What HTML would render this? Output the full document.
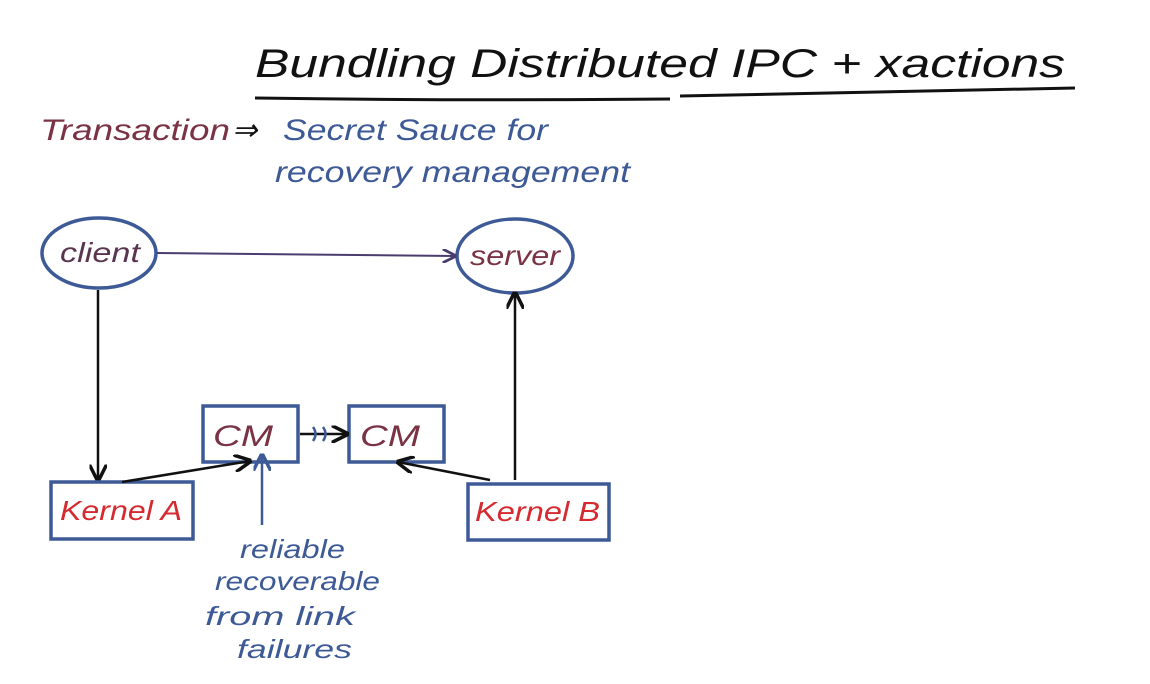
<!DOCTYPE html>
<html><head><meta charset="utf-8"><style>
html,body{margin:0;padding:0;background:#fff;width:1150px;height:684px;overflow:hidden}
text{font-family:"Liberation Sans",sans-serif;font-style:italic}
</style></head><body>
<svg width="1150" height="684" viewBox="0 0 1150 684" xmlns="http://www.w3.org/2000/svg">
<defs>
<marker id="a" viewBox="0 0 10 10" refX="9" refY="5" markerWidth="7" markerHeight="7" orient="auto"><path d="M0,0 L10,5 L0,10" fill="none" stroke="#111" stroke-width="2"/></marker>
<marker id="ab" viewBox="0 0 10 10" refX="9" refY="5" markerWidth="7" markerHeight="7" orient="auto"><path d="M0,0 L10,5 L0,10" fill="none" stroke="#3d5a96" stroke-width="2"/></marker>
<marker id="am" viewBox="0 0 10 10" refX="9" refY="5" markerWidth="7" markerHeight="7" orient="auto"><path d="M0,0 L10,5 L0,10" fill="none" stroke="#4a3c6e" stroke-width="2"/></marker>
</defs>
<text x="255" y="77" font-size="40" fill="#111" textLength="810" lengthAdjust="spacingAndGlyphs">Bundling Distributed IPC + xactions</text>
<path d="M255,98 Q460,101 670,99" stroke="#111" stroke-width="3" fill="none"/>
<path d="M680,96 Q880,92 1075,88" stroke="#111" stroke-width="3" fill="none"/>
<text x="40" y="140" font-size="30" fill="#7a3344" textLength="190" lengthAdjust="spacingAndGlyphs">Transaction</text>
<text x="232" y="140" font-size="30" fill="#111">⇒</text>
<text x="283" y="140" font-size="30" fill="#3d5a96" textLength="265" lengthAdjust="spacingAndGlyphs">Secret Sauce for</text>
<text x="275" y="182" font-size="30" fill="#3d5a96" textLength="355" lengthAdjust="spacingAndGlyphs">recovery management</text>
<ellipse cx="99" cy="253" rx="57" ry="35" fill="none" stroke="#3d5a96" stroke-width="3.5"/>
<text x="60" y="262" font-size="28" fill="#5a3550" textLength="80" lengthAdjust="spacingAndGlyphs">client</text>
<ellipse cx="515" cy="256" rx="58" ry="37" fill="none" stroke="#3d5a96" stroke-width="3.5"/>
<text x="470" y="265" font-size="28" fill="#7a3344" textLength="90" lengthAdjust="spacingAndGlyphs">server</text>
<line x1="157" y1="253" x2="455" y2="256" stroke="#4a3c6e" stroke-width="2" marker-end="url(#am)"/>
<line x1="98" y1="290" x2="98" y2="480" stroke="#111" stroke-width="2.5" marker-end="url(#a)"/>
<line x1="515" y1="480" x2="515" y2="293" stroke="#111" stroke-width="2.5" marker-end="url(#a)"/>
<rect x="51" y="482" width="142" height="57" fill="none" stroke="#3d5a96" stroke-width="3.5"/>
<text x="60" y="520" font-size="28" fill="#d42a30" textLength="122" lengthAdjust="spacingAndGlyphs">Kernel A</text>
<rect x="468" y="484" width="141" height="56" fill="none" stroke="#3d5a96" stroke-width="3.5"/>
<text x="475" y="521" font-size="28" fill="#d42a30" textLength="125" lengthAdjust="spacingAndGlyphs">Kernel B</text>
<rect x="203" y="406" width="95" height="56" fill="none" stroke="#3d5a96" stroke-width="3.5"/>
<text x="213" y="446" font-size="30" fill="#7a3344" textLength="60" lengthAdjust="spacingAndGlyphs">CM</text>
<rect x="349" y="406" width="95" height="56" fill="none" stroke="#3d5a96" stroke-width="3.5"/>
<text x="360" y="446" font-size="30" fill="#7a3344" textLength="60" lengthAdjust="spacingAndGlyphs">CM</text>
<line x1="300" y1="434" x2="347" y2="434" stroke="#111" stroke-width="2.5" marker-end="url(#a)"/>
<path d="M313,427 q5,7 0,14 M323,427 q5,7 0,14" stroke="#3d5a96" stroke-width="2.5" fill="none"/>
<line x1="122" y1="482" x2="250" y2="461" stroke="#111" stroke-width="2.5" marker-end="url(#a)"/>
<line x1="490" y1="480" x2="398" y2="462" stroke="#111" stroke-width="2.5" marker-end="url(#a)"/>
<line x1="262" y1="525" x2="262" y2="455" stroke="#3d5a96" stroke-width="2.5" marker-end="url(#ab)"/>
<g font-size="26" fill="#3d5a96">
<text x="240" y="558" textLength="105" lengthAdjust="spacingAndGlyphs">reliable</text>
<text x="215" y="590" textLength="165" lengthAdjust="spacingAndGlyphs">recoverable</text>
<text x="205" y="625" textLength="150" lengthAdjust="spacingAndGlyphs">from link</text>
<text x="237" y="658" textLength="115" lengthAdjust="spacingAndGlyphs">failures</text>
</g>
</svg>
</body></html>
